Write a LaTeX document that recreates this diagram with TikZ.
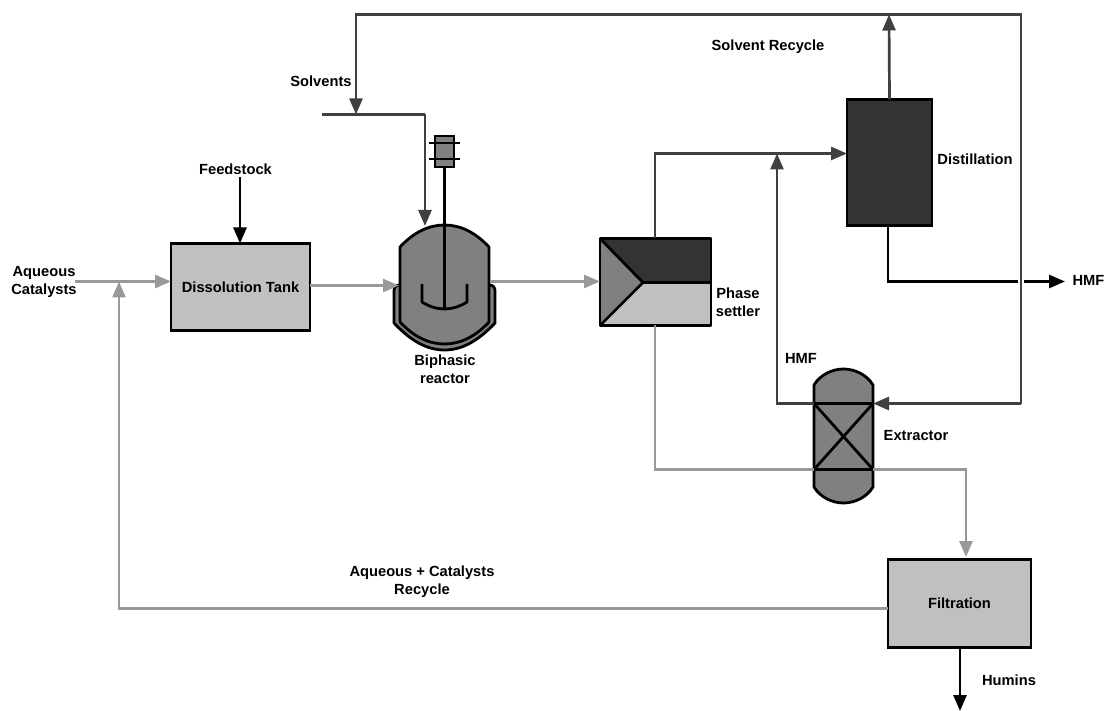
\documentclass[tikz,border=0pt]{standalone}
\usepackage{fontspec}
\setmainfont{Liberation Sans}
\usetikzlibrary{arrows.meta,calc}
\definecolor{lg}{HTML}{999999}
\definecolor{dk}{HTML}{404040}
\definecolor{boxg}{HTML}{C0C0C0}
\definecolor{midg}{HTML}{808080}
\definecolor{darkf}{HTML}{333333}
\tikzset{
 x=1pt,y=-1pt,
 unit/.style={draw=black,line width=2.8pt,inner sep=0pt,outer sep=0pt,font=\bfseries\fontsize{14.7}{16}\selectfont},
 lbl/.style={font=\bfseries\fontsize{14.7}{18}\selectfont,align=center,inner sep=0pt},
 tipL/.style={-{Triangle[length=16pt,width=13pt]}},
 grayline/.style={draw=lg,line width=2.7pt,line join=miter},
 darkline/.style={draw=dk,line width=2.7pt,line join=miter},
 blackline/.style={draw=black,line width=2.7pt,line join=miter},
 ink/.style={draw=black,line width=2.8pt,line join=round},
}
\begin{document}
\begin{tikzpicture}
\useasboundingbox (0,0) rectangle (1106,711);
% coordinates
\coordinate (aqin) at (75,281.5);
\coordinate (feedin) at (240,177);
\coordinate (solvin) at (322,114.5);
\coordinate (solvjoin) at (356,114.5);
\coordinate (solvturn) at (425,114.5);
\coordinate (recycTL) at (356,14.5);
\coordinate (recycTR) at (1021,14.5);
\coordinate (recycBR) at (1021,403.5);
\coordinate (disttop) at (889,14.5);
\coordinate (hmfout) at (1065,281.5);
\coordinate (humout) at (960,711);
\coordinate (aqjoin) at (119,281.5);
% boxes
\node[unit,fill=boxg,minimum width=139pt,minimum height=87pt] (diss) at (240.5,287) {Dissolution Tank};
\node[unit,fill=boxg,minimum width=143pt,minimum height=88pt] (filt) at (959.5,603.5) {Filtration};
\node[unit,fill=darkf,minimum width=85pt,minimum height=126pt] (dist) at (889.5,162.5) {};
\node[unit,draw=none,minimum width=90pt,minimum height=120pt] (reac) at (444.5,285) {};
\node[unit,draw=none,minimum width=111pt,minimum height=87pt] (sett) at (655.5,282) {};
\node[unit,draw=none,minimum width=59pt,minimum height=66pt] (extr) at (843.5,436.5) {};
% reactor
\path[ink,fill=midg] (394,291) .. controls (394,287) and (396,285) .. (400,285) -- (489,285) .. controls (493,285) and (495,287) .. (495,291) -- (495,323) .. controls (478,341) and (462,350) .. (444.5,350) .. controls (427,350) and (411,341) .. (394,323) -- cycle;
\path[ink,fill=midg] (400,247) .. controls (414,232) and (429,225) .. (444.5,225) .. controls (460,225) and (475,232) .. (489,247) -- (489,322) .. controls (475,337) and (460,344) .. (444.5,344) .. controls (429,344) and (414,337) .. (400,322) -- cycle;
\draw[ink] (444.5,167) -- (444.5,309);
\draw[ink] (422,284) -- (422,302) .. controls (429,306.5) and (437,309) .. (444.5,309) .. controls (452,309) and (460,306.5) .. (467,302) -- (467,284);
\node[unit,fill=midg,minimum width=19pt,minimum height=31pt,line width=2.6pt] (motor) at (444.5,151.5) {};
\draw[black,line width=2.2pt] (429,143) -- (460,143) (429,159) -- (460,159);
% settler
\path[fill=darkf] (600,238.5) -- (711,238.5) -- (711,282.5) -- (643,282.5) -- cycle;
\path[fill=boxg] (600,325.5) -- (711,325.5) -- (711,282.5) -- (643,282.5) -- cycle;
\path[fill=midg] (600,238.5) -- (643,282.5) -- (600,325.5) -- cycle;
\draw[ink] (600,238.5) rectangle (711,325.5);
\draw[ink] (600,238.5) -- (643,282.5) -- (600,325.5) (643,282.5) -- (711,282.5);
% extractor
\path[ink,fill=midg] (814,385) .. controls (820,375) and (832,369) .. (843.5,369) .. controls (855,369) and (867,375) .. (873,385) -- (873,487) .. controls (867,497) and (855,503) .. (843.5,503) .. controls (832,503) and (820,497) .. (814,487) -- cycle;
\draw[ink] (814,403.5) rectangle (873,469.5);
\draw[ink] (814,403.5) -- (873,469.5) (873,403.5) -- (814,469.5);
% connectors
\draw[grayline,tipL] (aqin) -- (diss.west |- aqin);
\draw[grayline,tipL] (filt.west |- 0,608.5) -- (119,608.5) -- (aqjoin);
\draw[blackline,tipL] (feedin) -- (diss.north -| feedin);
\draw[grayline,tipL] (diss.east |- 0,285.5) -- (399,285.5);
\draw[grayline,tipL] (490,281.5) -- (sett.west |- 0,281.5);
\draw[darkline] (solvin) -- (solvturn);
\draw[darkline,tipL] (solvturn) -- (425,226);
\draw[darkline,tipL] (dist.north) -- (disttop);
\draw[darkline,tipL] (recycBR) -- (recycTR) -- (recycTL) -- (solvjoin);
\draw[darkline,tipL] (recycBR) -- (extr.east |- recycBR);
\draw[darkline,tipL] (sett.north -| 655,0) -- (655,153.5) -- (dist.west |- 0,153.5);
\draw[darkline,tipL] (extr.west |- 0,403.5) -- (777,403.5) -- (777,153.5);
\draw[blackline] (dist.south -| 888,0) -- (888,281.5) -- (1018,281.5);
\draw[blackline,tipL] (1024,281.5) -- (hmfout);
\draw[grayline] (655,325) -- (655,469.5) -- (extr.west |- 0,469.5);
\draw[grayline,tipL] (extr.east |- 0,469.5) -- (966,469.5) -- (966,557);
\draw[blackline,tipL] (filt.south -| humout) -- (humout);
% labels
\node[lbl] (t1) at (44,281.5) {Aqueous\\Catalysts};
\node[lbl] (t2) at (235.5,169) {Feedstock};
\node[lbl] (t3) at (321,81) {Solvents};
\node[lbl] (t4) at (768,46.5) {Solvent Recycle};
\node[lbl] (t5) at (975,159) {Distillation};
\node[lbl] (t6) at (1088.5,280) {HMF};
\node[lbl] (t7) at (738,302) {Phase\\settler};
\node[lbl] (t8) at (445,369) {Biphasic\\reactor};
\node[lbl] (t9) at (801,358) {HMF};
\node[lbl] (t10) at (916,436) {Extractor};
\node[lbl] (t11) at (422,582) {Aqueous + Catalysts\\Recycle};
\node[lbl] (t12) at (1009,680) {Humins};
\end{tikzpicture}
\end{document}
